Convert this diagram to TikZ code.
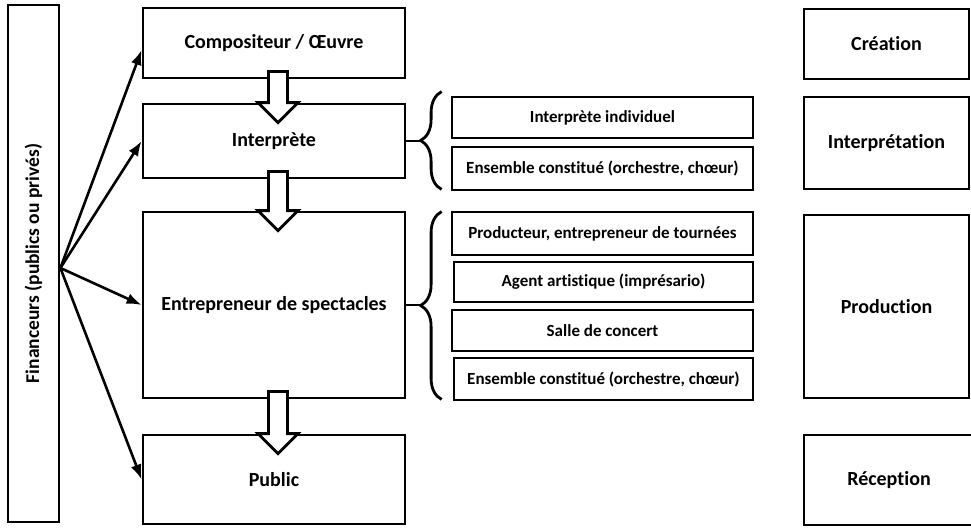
\documentclass[tikz,border=0pt]{standalone}
\usepackage{fontspec}
\setmainfont{Carlito}[Ligatures=NoCommon]
\usetikzlibrary{arrows.meta,calc,decorations.pathreplacing}

\tikzset{
	box/.style={draw,line width=2.8pt,inner sep=0pt,minimum width=262pt,font=\bfseries\fontsize{20}{24}\selectfont},
	subbox/.style={draw,line width=2.8pt,inner sep=0pt,minimum width=301pt,minimum height=42pt,font=\bfseries\fontsize{17}{20}\selectfont},
	phasebox/.style={draw,line width=2.8pt,inner sep=0pt,minimum width=165pt,font=\bfseries\fontsize{20}{24}\selectfont},
	fund/.style={-{Latex[length=15pt,width=11pt]},line width=2.6pt},
	hollow/.style={draw,line width=2.8pt,fill=white},
	curly/.style={decorate,decoration={brace,amplitude=21pt},line width=2.8pt}
}

% hollow block arrow from box #1 down into box #2
\newcommand{\blockdown}[2]{%
	\draw[hollow] let \p1=($(#1.south)+(4,0)$), \p2=($(#2.north)+(4,0)$) in
		(\x1-9.5pt,\y1+8pt)--(\x1+9.5pt,\y1+8pt)--(\x1+9.5pt,\y2)--(\x1+20pt,\y2)
		--(\x1,\y2-20pt)--(\x1-20pt,\y2)--(\x1-9.5pt,\y2)--cycle;}

\begin{document}
\begin{tikzpicture}[x=1pt,y=-1pt]
	\useasboundingbox (0,0) rectangle (971,527);
	% funders
	\node[draw,line width=2.8pt,minimum width=51pt,minimum height=517pt,inner sep=0pt,
		label={[rotate=90,font=\bfseries\fontsize{19.5}{22}\selectfont]center:Financeurs (publics ou privés)}]
		(fin) at (33.5,263.5) {};
	% main chain
	\node[box,minimum height=70pt] (comp) at (274,43) {Compositeur / Œuvre};
	\node[box,minimum height=74pt] (interp) at (274,141) {Interprète};
	\node[box,minimum height=186pt] (entr) at (274,305) {Entrepreneur de spectacles};
	\node[box,minimum height=89pt] (pub) at (274,479.5) {Public};
	% detail boxes
	\node[subbox,minimum height=41pt] (ia) at (602.5,117.5) {Interprète individuel};
	\node[subbox,minimum height=43pt] (ib) at (602.5,168.5) {Ensemble constitué (orchestre, chœur)};
	\node[subbox,minimum height=43pt] (pa) at (602.5,233.5) {Producteur, entrepreneur de tournées};
	\node[subbox,minimum height=40pt,minimum width=299pt] (pb) at (603.5,282) {Agent artistique (imprésario)};
	\node[subbox,minimum height=41pt] (pc) at (602.5,330.5) {Salle de concert};
	\node[subbox,minimum height=42pt,minimum width=299pt] (pd) at (603.5,379) {Ensemble constitué (orchestre, chœur)};
	% phases
	\node[phasebox,minimum height=70pt] (cre) at (886.5,44) {Création};
	\node[phasebox,minimum height=92pt] (inp) at (886.5,143) {Interprétation};
	\node[phasebox,minimum height=183pt] (prod) at (886.5,306.5) {Production};
	\node[phasebox,minimum height=90pt,minimum width=170pt] (rec) at (889,480) {Réception};

	% funding arrows
	\coordinate (src) at ($(fin.east)+(0,4.5)$);
	\draw[fund] (src)--($(comp.west)+(0,7)$);
	\draw[fund] (src)--(interp.west);
	\draw[fund] (src)--(entr.west);
	\draw[fund] (src)--(pub.west);

	% block arrows
	\blockdown{comp}{interp}
	\blockdown{interp}{entr}
	\blockdown{entr}{pub}

	% braces
	\coordinate (b1t) at ($(ia.north west)+(-9,-4)$);
	\coordinate (b1b) at ($(ib.south west)+(-9,-2)$);
	\coordinate (b1m) at ($(b1t)!0.5!(b1b)+(-21,0)$);
	\draw[curly] (b1b)--(b1t);
	\draw[line width=2.8pt] (interp.east)--(interp.east -| b1m);
	\coordinate (b2t) at ($(pa.north west)+(-9,1)$);
	\coordinate (b2b) at ($(pd.south west)+(-11,-2)$);
	\coordinate (b2m) at ($(b2t)!0.5!(b2b)+(-21,0)$);
	\draw[curly] (b2b)--(b2t);
	\draw[line width=2.8pt] (entr.east)--(entr.east -| b2m);
\end{tikzpicture}
\end{document}
